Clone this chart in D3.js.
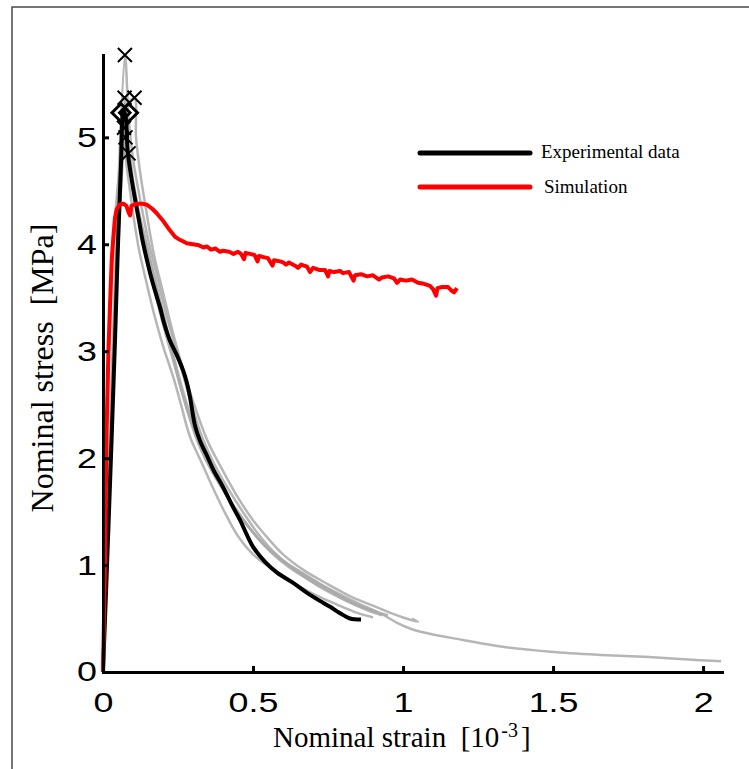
<!DOCTYPE html>
<html>
<head>
<meta charset="utf-8">
<script src="https://cdn.jsdelivr.net/npm/d3@7"></script>
<style>
  html, body { margin: 0; padding: 0; background: #fff; }
  svg { display: block; }
  text { white-space: pre; }
</style>
</head>
<body>
<svg id="chart" width="749" height="769"></svg>
<script>
// Tick values
const xTicks = [0, 0.5, 1, 1.5, 2];
const yTicks = [0, 1, 2, 3, 4, 5];

// Mean experimental curve [strain (1e-3), stress (MPa)]
const experimental = [
  [0,0],[0.02,1.5],[0.04,3.1],[0.05,4.0],[0.06,4.75],[0.068,5.25],[0.075,5.2],[0.083,4.85],
  [0.1,4.53],[0.12,4.22],[0.13,4.06],[0.14,3.93],[0.157,3.73],[0.175,3.55],[0.19,3.41],
  [0.205,3.25],[0.223,3.1],[0.245,2.97],[0.267,2.82],[0.28,2.7],[0.29,2.57],[0.307,2.3],
  [0.325,2.15],[0.347,2.02],[0.37,1.88],[0.4,1.73],[0.43,1.56],[0.457,1.42],[0.48,1.28],
  [0.5,1.17],[0.54,1.03],[0.58,0.93],[0.63,0.84],[0.68,0.74],[0.72,0.67],[0.757,0.61],
  [0.79,0.55],[0.823,0.5],[0.86,0.49]
];

// Individual specimen curves
const specimen1 = [
  [0,0],[0.073,5.77],[0.085,5.2],[0.1,4.8],[0.125,4.4],[0.15,4.05],[0.18,3.7],[0.21,3.35],
  [0.25,2.95],[0.29,2.55],[0.33,2.2],[0.37,1.95],[0.42,1.7],[0.47,1.48],[0.52,1.28],[0.57,1.12],
  [0.62,1.0],[0.7,0.86],[0.78,0.74],[0.86,0.63],[0.93,0.54],[0.98,0.46],[1.03,0.4],[1.1,0.35],
  [1.2,0.3],[1.32,0.24],[1.49,0.19],[1.66,0.16],[1.82,0.14],[1.99,0.11],[2.06,0.1]
];
const specimen2 = [
  [0,0],[0.065,5.0],[0.08,5.3],[0.105,5.37],[0.11,5.0],[0.125,4.65],[0.145,4.3],[0.17,3.9],
  [0.2,3.55],[0.235,3.15],[0.27,2.8],[0.31,2.45],[0.35,2.15],[0.4,1.88],[0.45,1.63],[0.5,1.42],
  [0.55,1.25],[0.6,1.1],[0.67,0.95],[0.75,0.82],[0.83,0.7],[0.9,0.62],[0.96,0.55],[1.0,0.51],
  [1.05,0.47],[1.03,0.5]
];
const specimen3 = [
  [0,0],[0.07,5.09],[0.076,4.8],[0.09,4.5],[0.105,4.2],[0.12,3.95],[0.14,3.7],[0.17,3.35],
  [0.2,3.05],[0.235,2.75],[0.26,2.5],[0.29,2.2],[0.33,1.95],[0.37,1.7],[0.41,1.47],[0.45,1.27],
  [0.5,1.1],[0.56,0.97],[0.63,0.84],[0.7,0.73],[0.78,0.63],[0.85,0.55],[0.9,0.51]
];
const specimen4 = [
  [0,0],[0.075,5.0],[0.088,4.75],[0.105,4.5],[0.13,4.15],[0.16,3.8],[0.19,3.45],[0.225,3.05],
  [0.26,2.65],[0.3,2.3],[0.34,2.0],[0.39,1.75],[0.44,1.53],[0.49,1.34],[0.54,1.18],[0.6,1.04],
  [0.68,0.9],[0.76,0.76],[0.84,0.64],[0.9,0.57],[0.95,0.53]
];
const specimen5 = [
  [0,0],[0.065,4.8],[0.085,4.85],[0.1,4.6],[0.12,4.3],[0.15,3.95],[0.18,3.6],[0.21,3.25],
  [0.245,2.85],[0.28,2.5],[0.32,2.15],[0.36,1.9],[0.41,1.66],[0.46,1.45],[0.51,1.27],[0.56,1.12],
  [0.62,0.98],[0.7,0.84],[0.78,0.72],[0.85,0.62],[0.9,0.57]
];
const specimen6 = [
  [0,0],[0.072,5.37],[0.08,5.0],[0.095,4.6],[0.115,4.3],[0.14,3.98],[0.165,3.65],[0.2,3.25],
  [0.24,2.85],[0.28,2.45],[0.32,2.12],[0.37,1.85],[0.42,1.62],[0.47,1.42],[0.52,1.24],[0.58,1.08],
  [0.65,0.93],[0.72,0.8],[0.8,0.68],[0.88,0.58],[0.93,0.53]
];
const specimens = [specimen1, specimen2, specimen3, specimen4, specimen5, specimen6];

// Failure points of the specimens and peak of the mean curve
const failureCrosses = [[0.073,5.77],[0.072,5.37],[0.105,5.37],[0.07,5.09],[0.075,5.0],[0.085,4.85]];
const peakDiamonds = [[0.06,5.23],[0.085,5.23]];

// Simulated curve
const simulation = [
  [0,0],[0.007,1.05],[0.012,2.26],[0.018,3.0],[0.023,3.4],[0.029,3.85],[0.034,4.05],[0.04,4.25],
  [0.046,4.33],[0.055,4.37],[0.068,4.38],[0.078,4.36],[0.085,4.3],[0.09,4.27],[0.095,4.36],
  [0.112,4.38],[0.13,4.38],[0.146,4.37],[0.165,4.33],[0.179,4.29],[0.2,4.22],[0.223,4.13],
  [0.24,4.07],[0.251,4.05],[0.265,4.03],[0.279,4.01],[0.3,4.0],[0.32,3.99],[0.335,3.97],
  [0.346,3.98],[0.36,3.95],[0.375,3.96],[0.39,3.93],[0.4,3.94],[0.42,3.93],[0.435,3.91],
  [0.45,3.93],[0.46,3.91],[0.47,3.86],[0.475,3.92],[0.49,3.91],[0.505,3.9],[0.515,3.84],
  [0.52,3.89],[0.535,3.88],[0.55,3.87],[0.565,3.8],[0.57,3.85],[0.59,3.84],[0.6,3.83],
  [0.61,3.81],[0.62,3.83],[0.64,3.8],[0.65,3.78],[0.66,3.81],[0.68,3.79],[0.69,3.74],
  [0.7,3.78],[0.72,3.76],[0.74,3.76],[0.75,3.7],[0.755,3.75],[0.77,3.74],[0.79,3.75],
  [0.8,3.73],[0.82,3.74],[0.835,3.66],[0.84,3.71],[0.86,3.72],[0.88,3.7],[0.9,3.71],
  [0.92,3.67],[0.93,3.69],[0.95,3.7],[0.97,3.68],[0.98,3.64],[0.99,3.67],[1.01,3.66],
  [1.03,3.67],[1.05,3.64],[1.07,3.63],[1.09,3.61],[1.1,3.58],[1.11,3.52],[1.115,3.59],
  [1.13,3.6],[1.15,3.6],[1.16,3.57],[1.17,3.55],[1.18,3.59]
];

const legendItems = [
  { label: "Experimental data", color: "#000000" },
  { label: "Simulation", color: "#ff0000" }
];

const svg = d3.select("#chart");

// Outer frame (top and left edges)
svg.append("path")
  .attr("d", "M12,769V7H749")
  .attr("fill", "none")
  .attr("stroke", "#4a4a4a")
  .attr("stroke-width", 1.5);

const x = d3.scaleLinear().domain([0, 2.063]).range([103, 722]);
const y = d3.scaleLinear().domain([0, 5.77]).range([672, 55]);

const smoothLine = d3.line().x(d => x(d[0])).y(d => y(d[1])).curve(d3.curveCatmullRom.alpha(0.5));
const line = d3.line().x(d => x(d[0])).y(d => y(d[1]));

// Specimen curves
svg.append("g").selectAll("path")
  .data(specimens)
  .join("path")
  .attr("d", smoothLine)
  .attr("fill", "none")
  .attr("stroke", "#a9a9a9")
  .attr("stroke-opacity", 0.85)
  .attr("stroke-width", 2.5)
  .attr("stroke-linejoin", "round");

// Mean experimental curve
svg.append("path")
  .datum(experimental)
  .attr("d", smoothLine)
  .attr("fill", "none")
  .attr("stroke", "#000")
  .attr("stroke-width", 4)
  .attr("stroke-linejoin", "round");

// Simulation curve
svg.append("path")
  .datum(simulation)
  .attr("d", line)
  .attr("fill", "none")
  .attr("stroke", "#ff0000")
  .attr("stroke-width", 4)
  .attr("stroke-linejoin", "round");

// Markers
svg.append("g").selectAll("path")
  .data(failureCrosses)
  .join("path")
  .attr("transform", d => `translate(${x(d[0])},${y(d[1])})`)
  .attr("d", "M-7,-7L7,7M-7,7L7,-7")
  .attr("stroke", "#000")
  .attr("stroke-width", 2);

svg.append("g").selectAll("path")
  .data(peakDiamonds)
  .join("path")
  .attr("transform", d => `translate(${x(d[0])},${y(d[1])})`)
  .attr("d", "M0,-9L9,0L0,9L-9,0Z")
  .attr("fill", "none")
  .attr("stroke", "#000")
  .attr("stroke-width", 3);

// Axes
const fmt = d => d3.format("")(d);
const xAxis = svg.append("g")
  .attr("transform", "translate(0,672)")
  .call(d3.axisBottom(x).tickValues(xTicks).tickFormat(fmt).tickSizeInner(-6).tickSizeOuter(0).tickPadding(20));
const yAxis = svg.append("g")
  .attr("transform", "translate(103,0)")
  .call(d3.axisLeft(y).tickValues(yTicks).tickFormat(fmt).tickSizeInner(-6).tickSizeOuter(0).tickPadding(6));

[xAxis, yAxis].forEach(g => {
  g.select(".domain").attr("stroke", "#000").attr("stroke-width", 3).attr("stroke-linecap", "square");
  g.selectAll(".tick line").attr("stroke", "#000").attr("stroke-width", 3);
  g.selectAll(".tick text")
    .attr("fill", "#000")
    .style("font-family", "'Liberation Sans', Arial, sans-serif")
    .style("font-size", "28px")
    .each(function() {
      const w = this.getComputedTextLength();
      d3.select(this).attr("textLength", w * 1.28).attr("lengthAdjust", "spacingAndGlyphs");
    });
});

// Axis titles
const xTitle = svg.append("text")
  .attr("x", 273)
  .attr("y", 747)
  .style("font-family", "'Liberation Serif', 'Times New Roman', serif")
  .style("font-size", "29px")
  .attr("fill", "#000");
xTitle.append("tspan").text("Nominal strain  [10");
xTitle.append("tspan").attr("dy", -10).attr("dx", 2).style("font-size", "20px").text("-3");
xTitle.append("tspan").attr("dy", 10).attr("dx", 3).text("]");

svg.append("text")
  .attr("transform", "translate(53,368) rotate(-90)")
  .attr("text-anchor", "middle")
  .style("font-family", "'Liberation Serif', 'Times New Roman', serif")
  .style("font-size", "32px")
  .attr("fill", "#000")
  .text("Nominal stress  [MPa]");

// Legend
const legend = svg.append("g");
legendItems.forEach((item, i) => {
  const ly = 153 + i * 34;
  legend.append("line")
    .attr("x1", 420).attr("x2", 530)
    .attr("y1", ly).attr("y2", ly)
    .attr("stroke", item.color)
    .attr("stroke-width", 5)
    .attr("stroke-linecap", "round");
  legend.append("text")
    .attr("x", 541 + i * 3)
    .attr("y", ly + 5 + i * 1)
    .style("font-family", "'Liberation Serif', 'Times New Roman', serif")
    .style("font-size", "19px")
    .attr("fill", "#000")
    .text(item.label);
});
</script>
</body>
</html>
